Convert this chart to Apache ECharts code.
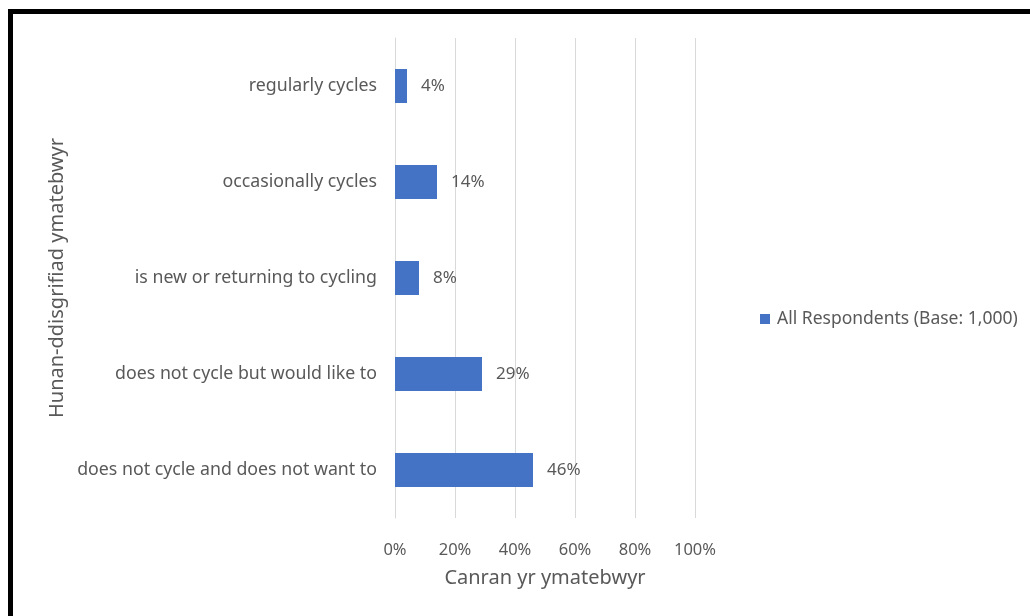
<!DOCTYPE html>
<html>
<head>
<meta charset="utf-8">
<script src="https://cdn.jsdelivr.net/npm/echarts@6/dist/echarts.min.js"></script>
<style>
html,body{margin:0;padding:0;background:#fff;}
#c{width:1030px;height:616px;}
</style>
</head>
<body>
<div id="c"></div>
<script>
const categories = [
  "does not cycle and does not want to",
  "does not cycle but would like to",
  "is new or returning to cycling",
  "occasionally cycles",
  "regularly cycles"
];
const values = [46, 29, 8, 14, 4];
const seriesName = "All Respondents (Base: 1,000)";
const xTitle = "Canran yr ymatebwyr";
const yTitle = "Hunan-ddisgrifiad ymatebwyr";

const FONT = "Noto Sans";
const chart = echarts.init(document.getElementById('c'), null, {renderer: 'canvas'});
chart.setOption({
  animation: false,
  backgroundColor: '#fff',
  textStyle: {fontFamily: FONT},
  graphic: [{
    type: 'rect',
    shape: {x: 10.5, y: 11.5, width: 1100, height: 700},
    style: {fill: 'none', stroke: '#000', lineWidth: 5},
    silent: true, z: 100
  }],
  grid: {left: 395, right: 335, top: 38, bottom: 98, containLabel: false},
  legend: {
    data: [seriesName],
    left: 755, top: 305,
    icon: 'rect', itemWidth: 10, itemHeight: 10, itemGap: 4,
    textStyle: {color: '#595959', fontSize: 17.5, fontFamily: FONT, padding: [0, 0, 0, 2]}
  },
  xAxis: {
    type: 'value', min: 0, max: 100, interval: 20,
    name: xTitle, nameLocation: 'middle', nameGap: 50,
    nameTextStyle: {color: '#595959', fontSize: 20, fontFamily: FONT},
    axisLine: {show: false}, axisTick: {show: false},
    axisLabel: {formatter: '{value}%', color: '#595959', fontSize: 16.5, margin: 24, fontFamily: FONT},
    splitLine: {show: true, lineStyle: {color: '#d9d9d9', width: 1}}
  },
  yAxis: {
    type: 'category', data: categories,
    name: yTitle, nameLocation: 'middle', nameGap: 328, nameRotate: 90,
    nameTextStyle: {color: '#595959', fontSize: 20, fontFamily: FONT},
    axisLine: {show: true, lineStyle: {color: '#d9d9d9'}},
    axisTick: {show: false},
    axisLabel: {color: '#595959', fontSize: 17.75, margin: 18, fontFamily: FONT}
  },
  series: [{
    name: seriesName, type: 'bar', data: values, barWidth: 34,
    itemStyle: {color: '#4472C4'},
    label: {show: true, position: 'right', distance: 14, formatter: '{c}%', color: '#595959', fontSize: 17, fontFamily: FONT}
  }]
});
</script>
</body>
</html>
